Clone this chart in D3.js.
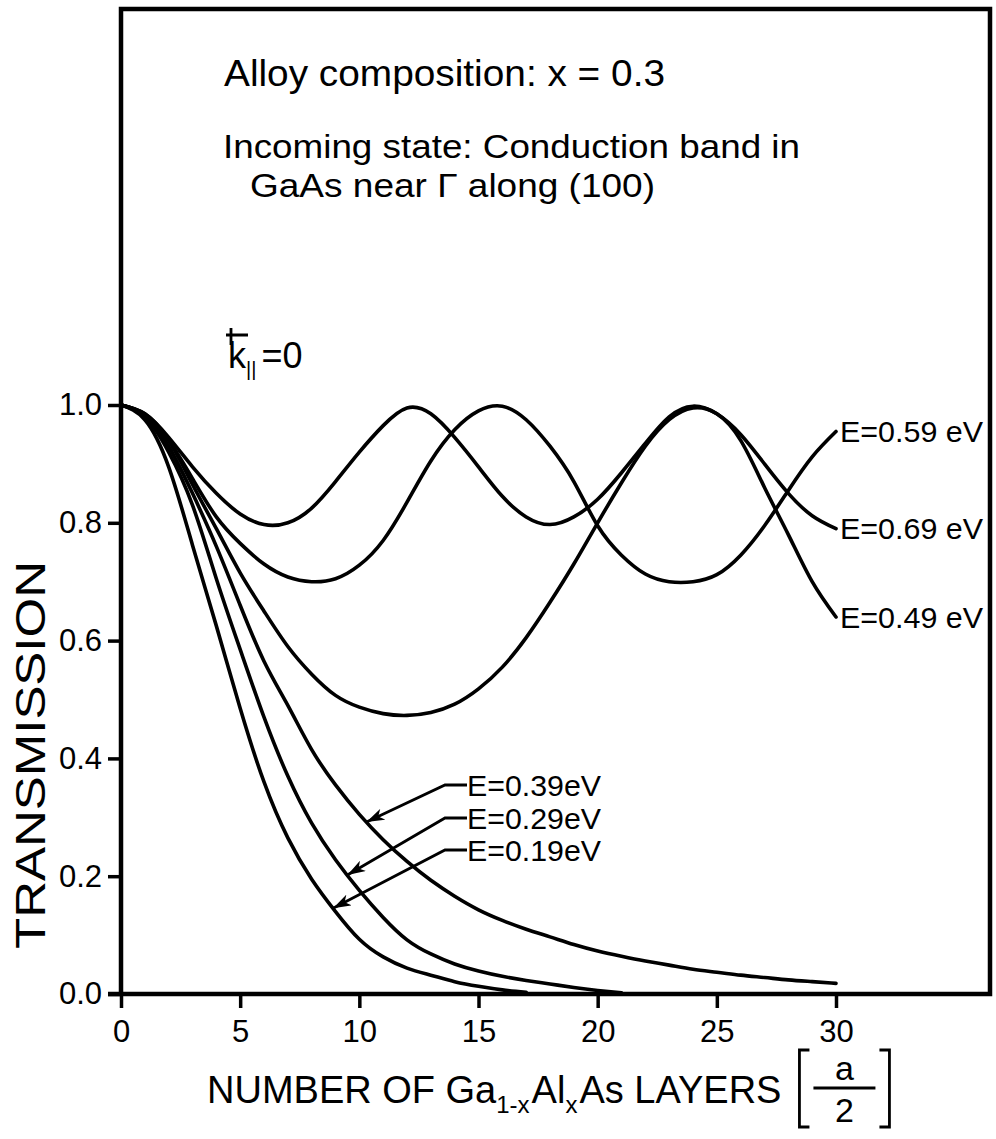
<!DOCTYPE html>
<html lang="en">
<head>
<meta charset="utf-8">
<title>Transmission through Ga(1-x)Al(x)As layers</title>
<script src="https://cdn.jsdelivr.net/npm/d3@7/dist/d3.min.js"></script>
<style>
  body { margin: 0; background: #fff; }
  text { font-family: "Liberation Sans", Arial, sans-serif; fill: #000; }
  .curve { fill: none; stroke: #000; stroke-width: 3.6; stroke-linejoin: round; stroke-linecap: round; }
  .frame { fill: none; stroke: #000; stroke-width: 4.5; }
  .axis .tick line { stroke: #000; stroke-width: 3.5; }
  .axis .tick text { font-size: 31px; }
  .leader { fill: none; stroke: #000; stroke-width: 2.8; }
</style>
</head>
<body>
<script>
// number of layers (units of a/2)
var layers = [0,1,2,3,4,5,6,7,8,9,10,11,12,13,14,15,16,17,18,19,20,21,22,23,24,25,26,27,28,29,30];

// transmission, one array per energy
var t069 = [1.0,0.985,0.945,0.895,0.85,0.815,0.797,0.80,0.825,0.87,0.92,0.965,0.995,0.985,0.945,0.895,0.845,0.81,0.797,0.81,0.84,0.885,0.935,0.98,0.998,0.985,0.95,0.90,0.85,0.812,0.79];
var t059 = [1.0,0.984,0.94,0.875,0.81,0.765,0.73,0.708,0.70,0.705,0.728,0.77,0.835,0.905,0.958,0.99,0.998,0.975,0.93,0.87,0.795,0.745,0.713,0.70,0.70,0.712,0.745,0.795,0.855,0.912,0.955];
var t049 = [1.0,0.985,0.94,0.865,0.79,0.715,0.65,0.59,0.543,0.507,0.487,0.476,0.473,0.478,0.492,0.518,0.555,0.605,0.665,0.73,0.80,0.868,0.93,0.975,0.995,0.985,0.94,0.86,0.78,0.70,0.64];
var t039 = [1.0,0.982,0.93,0.85,0.76,0.66,0.565,0.49,0.415,0.355,0.305,0.262,0.225,0.193,0.166,0.143,0.125,0.11,0.097,0.084,0.073,0.064,0.056,0.049,0.042,0.037,0.032,0.028,0.024,0.021,0.018];
var t029 = [1.0,0.98,0.92,0.83,0.705,0.585,0.47,0.37,0.29,0.228,0.176,0.13,0.092,0.068,0.051,0.039,0.03,0.023,0.017,0.011,0.006,0.002,null,null,null,null,null,null,null,null,null];
var t019 = [1.0,0.975,0.895,0.762,0.625,0.485,0.36,0.265,0.195,0.14,0.093,0.063,0.044,0.032,0.021,0.013,0.007,0.003,null,null,null,null,null,null,null,null,null,null,null,null,null];

var xTicks = [0,5,10,15,20,25,30];
var yTicks = [0,0.2,0.4,0.6,0.8,1.0];

// labels at the right end of the oscillating curves
var upperLabels = ["E=0.59 eV","E=0.69 eV","E=0.49 eV"];
var upperSeries = [t059, t069, t049];
// labels with arrows for the decaying curves, and where each arrow lands
var lowerLabels = ["E=0.39eV","E=0.29eV","E=0.19eV"];
var lowerSeries = [t039, t029, t019];
var arrowAt = [10.3, 9.5, 8.9];

var w = 996, h = 1139;

var svg = d3.select("body").append("svg")
  .attr("width", w)
  .attr("height", h);

var defs = svg.append("defs");
defs.append("marker")
  .attr("id", "head")
  .attr("viewBox", "0 0 18 12")
  .attr("refX", 18).attr("refY", 6)
  .attr("markerWidth", 18).attr("markerHeight", 12)
  .attr("markerUnits", "userSpaceOnUse")
  .attr("orient", "auto")
  .append("path")
  .attr("d", "M0,0 L18,6 L0,12 L5,6 Z")
  .attr("fill", "#000");

var xScale = d3.scaleLinear().domain([0, 30]).range([121, 836]);
var yScale = d3.scaleLinear().domain([0, 1]).range([994, 405]);

// frame
svg.append("path")
  .attr("class", "frame")
  .attr("d", "M121,994 L121,9 L990,9 L990,994 L108,994");

// axes
var yAxis = d3.axisLeft(yScale)
  .tickValues(yTicks)
  .tickFormat(d3.format(".1f"))
  .tickSize(13)
  .tickPadding(6);
var gy = svg.append("g")
  .attr("class", "axis")
  .attr("transform", "translate(121,0)")
  .call(yAxis);
gy.select(".domain").remove();

var xAxis = d3.axisBottom(xScale)
  .tickValues(xTicks)
  .tickSize(14)
  .tickPadding(12);
var gx = svg.append("g")
  .attr("class", "axis")
  .attr("transform", "translate(0,994)")
  .call(xAxis);
gx.select(".domain").remove();

// curves
var line = d3.line()
  .defined(function(d) { return d[1] != null; })
  .x(function(d) { return xScale(d[0]); })
  .y(function(d) { return yScale(d[1]); })
  .curve(d3.curveNatural);

var allSeries = [t069, t059, t049, t039, t029, t019];
svg.selectAll("path.curve")
  .data(allSeries)
  .enter()
  .append("path")
  .attr("class", "curve")
  .attr("d", function(s) {
    return line(layers.map(function(l, i) { return [l, s[i]]; }));
  });

// labels at the ends of the upper curves
svg.selectAll("text.upper")
  .data(upperLabels)
  .enter()
  .append("text")
  .attr("class", "upper")
  .attr("x", xScale(30) + 4)
  .attr("y", function(d, i) { return yScale(upperSeries[i][30]); })
  .attr("dy", "0.36em")
  .attr("textLength", 143).attr("lengthAdjust", "spacingAndGlyphs")
  .style("font-size", "30px")
  .text(function(d) { return d; });

// value of a series between two layers
function valueAt(s, l) {
  var i = Math.floor(l), f = l - i;
  return s[i] + (s[i + 1] - s[i]) * f;
}

var labelX = 467, elbowX = 445;
var labelY = [785, 818, 850];
lowerLabels.forEach(function(d, i) {
  var tx = xScale(arrowAt[i]);
  var ty = yScale(valueAt(lowerSeries[i], arrowAt[i]));
  svg.append("path")
    .attr("class", "leader")
    .attr("d", "M" + labelX + "," + labelY[i] + " L" + elbowX + "," + labelY[i] + " L" + tx + "," + ty)
    .attr("marker-end", "url(#head)");
  svg.append("text")
    .attr("x", labelX)
    .attr("y", labelY[i])
    .attr("dy", "0.36em")
    .attr("textLength", 134).attr("lengthAdjust", "spacingAndGlyphs")
    .style("font-size", "30px")
    .text(d);
});

// notes at the top
svg.append("text")
  .attr("x", 224).attr("y", 86)
  .attr("textLength", 441).attr("lengthAdjust", "spacingAndGlyphs")
  .style("font-size", "37px")
  .text("Alloy composition:  x = 0.3");
svg.append("text")
  .attr("x", 223).attr("y", 158)
  .attr("textLength", 577).attr("lengthAdjust", "spacingAndGlyphs")
  .style("font-size", "33px")
  .text("Incoming state: Conduction band in");
svg.append("text")
  .attr("x", 250).attr("y", 197)
  .attr("textLength", 405).attr("lengthAdjust", "spacingAndGlyphs")
  .style("font-size", "33px")
  .text("GaAs near \u0393 along (100)");

var kText = svg.append("text")
  .attr("x", 228).attr("y", 368)
  .style("font-size", "36px");
kText.append("tspan").text("k");
kText.append("tspan").attr("dy", 8).style("font-size", "20px").text("||");
kText.append("tspan").attr("dy", -8).attr("dx", 5).text("=0");
svg.append("path")
  .attr("class", "leader")
  .attr("d", "M226,335 L248,335 M231,328 L231,345");

// axis titles
svg.append("text")
  .attr("transform", "translate(30,755) rotate(-90)")
  .attr("text-anchor", "middle")
  .attr("dy", "0.36em")
  .attr("textLength", 388).attr("lengthAdjust", "spacingAndGlyphs")
  .style("font-size", "42px")
  .text("TRANSMISSION");

var xt = svg.append("text")
  .attr("x", 207).attr("y", 1103)
  .style("font-size", "38px");
xt.append("tspan").text("NUMBER OF Ga");
xt.append("tspan").attr("dy", 10).style("font-size", "24px").text("1-x");
xt.append("tspan").attr("dy", -10).attr("dx", 2).text("Al");
xt.append("tspan").attr("dy", 10).style("font-size", "24px").text("x");
xt.append("tspan").attr("dy", -10).attr("dx", 2).text("As LAYERS");

var bx = 207 + xt.node().getComputedTextLength() + 22;
svg.append("path")
  .attr("class", "leader")
  .attr("stroke-width", 3.5)
  .attr("d", "M" + (bx + 10) + ",1050 L" + bx + ",1050 L" + bx + ",1127 L" + (bx + 10) + ",1127" +
             " M" + (bx + 80) + ",1050 L" + (bx + 90) + ",1050 L" + (bx + 90) + ",1127 L" + (bx + 80) + ",1127" +
             " M" + (bx + 14) + ",1088 L" + (bx + 76) + ",1088");
svg.append("text")
  .attr("x", bx + 45).attr("y", 1080)
  .attr("text-anchor", "middle")
  .style("font-size", "34px")
  .text("a");
svg.append("text")
  .attr("x", bx + 45).attr("y", 1122)
  .attr("text-anchor", "middle")
  .style("font-size", "34px")
  .text("2");
</script>
</body>
</html>
